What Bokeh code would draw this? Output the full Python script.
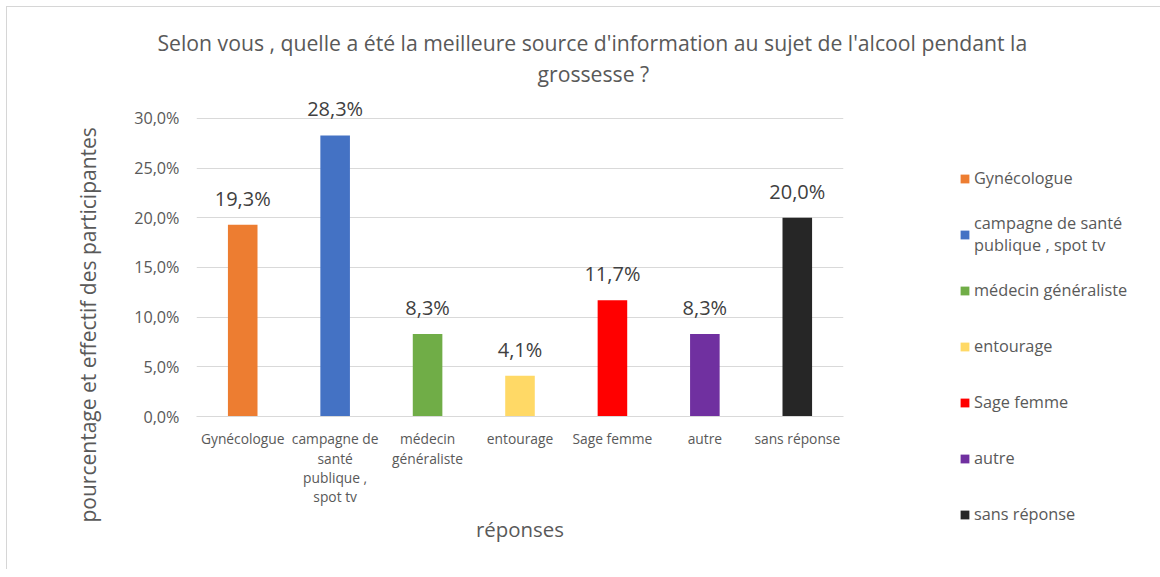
from bokeh.plotting import figure
from bokeh.models import (ColumnDataSource, Range1d, FixedTicker, LinearAxis,
                          LabelSet, Legend, LegendItem, Title)
from bokeh.core.properties import value
from bokeh.embed import file_html
from bokeh.resources import INLINE

# ---- data ----
categories = ["Gynécologue", "campagne de santé publique , spot tv", "médecin généraliste",
              "entourage", "Sage femme", "autre", "sans réponse"]
values = [19.3, 28.3, 8.3, 4.1, 11.7, 8.3, 20.0]
value_labels = ["19,3%", "28,3%", "8,3%", "4,1%", "11,7%", "8,3%", "20,0%"]
# wrapped category labels, one list per text line
axis_lines = [
    ["Gynécologue", "campagne de", "médecin", "entourage", "Sage femme", "autre", "sans réponse"],
    ["", "santé", "généraliste", "", "", "", ""],
    ["", "publique ,", "", "", "", "", ""],
    ["", "spot tv", "", "", "", "", ""],
]
legend_labels = ["Gynécologue", "campagne de santé\npublique , spot tv", "médecin généraliste",
                 "entourage", "Sage femme", "autre", "sans réponse"]
colors = ["#ED7D31", "#4472C4", "#70AD47", "#FFD966", "#FF0000", "#7030A0", "#262626"]
y_ticks = [0, 5, 10, 15, 20, 25, 30]
y_tick_labels = ["0,0%", "5,0%", "10,0%", "15,0%", "20,0%", "25,0%", "30,0%"]
title_lines = ["Selon vous , quelle a été la meilleure source d'information au sujet de l'alcool pendant la",
               "grossesse ?"]
x_title = "réponses"
y_title = "pourcentage et effectif des participantes"

FONT = "Open Sans"
GREY = "#595959"
EDGE = "#D6D6D6"

x_pos = list(range(len(categories)))

p = figure(frame_width=647, frame_height=329, title=None,
           x_range=Range1d(-0.5, len(categories) - 0.5),
           y_range=Range1d(0, 33.12),
           output_backend="svg", toolbar_location=None,
           min_border_left=196, min_border_right=309,
           min_border_top=87, min_border_bottom=153)
p.outline_line_color = None
p.background_fill_color = "white"
p.border_fill_alpha = 0
p.styles = {
    "background": (f"linear-gradient({EDGE}, {EDGE}) 6px 6px / 1px 100% no-repeat, "
                   f"linear-gradient({EDGE}, {EDGE}) 6px 6px / 100% 1px no-repeat, white"),
}

source = ColumnDataSource(dict(x=x_pos, cat=categories, val=values, color=colors, lbl=value_labels))
r = p.vbar(x="x", top="val", width=0.32, fill_color="color", line_color=None, source=source)

labels = LabelSet(x="x", y="val", text="lbl", source=source, y_offset=19,
                  text_align="center", text_baseline="alphabetic",
                  text_font=value(FONT), text_font_size=value("20px"), text_color="#404040")
p.add_layout(labels)

# x axes: one per wrapped text line
xa = p.xaxis[0]
extra_axes = [LinearAxis() for _ in range(len(axis_lines) - 1)]
for ax in extra_axes:
    p.add_layout(ax, "below")
all_x_axes = [xa] + extra_axes
standoffs = [12, -2, -3, -3]
for k, ax in enumerate(all_x_axes):
    ax.ticker = FixedTicker(ticks=x_pos)
    ax.major_label_overrides = dict(zip(x_pos, axis_lines[k]))
    ax.major_label_text_font = FONT
    ax.major_label_text_font_size = "13.8px"
    ax.major_label_text_color = GREY
    ax.major_label_standoff = standoffs[k]
    ax.major_tick_line_color = None
    ax.major_tick_out = 0
    ax.major_tick_in = 0
    ax.minor_tick_line_color = None
    ax.minor_tick_out = 0
    ax.axis_line_color = "#D9D9D9" if k == 0 else None
last = all_x_axes[-1]
last.axis_label = x_title
last.axis_label_text_font = FONT
last.axis_label_text_font_size = "20.4px"
last.axis_label_text_font_style = "normal"
last.axis_label_text_color = GREY
last.axis_label_standoff = 6

p.yaxis.ticker = FixedTicker(ticks=y_ticks)
p.yaxis.major_label_overrides = dict(zip(y_ticks, y_tick_labels))
p.yaxis.major_label_text_font = FONT
p.yaxis.major_label_text_font_size = "16.2px"
p.yaxis.major_label_text_color = GREY
p.yaxis.major_label_standoff = 17
p.yaxis.major_tick_line_color = None
p.yaxis.major_tick_out = 0
p.yaxis.major_tick_in = 0
p.yaxis.minor_tick_line_color = None
p.yaxis.minor_tick_out = 0
p.yaxis.axis_line_color = None

p.xgrid.visible = False
p.ygrid.grid_line_color = "#D9D9D9"
p.ygrid.grid_line_width = 1

# chart title (two lines; first added is nearest the plot)
p.add_layout(Title(text=title_lines[1], align="left", offset=341, standoff=0,
                   vertical_align="bottom", text_font=FONT, text_font_size="21.2px",
                   text_font_style="normal", text_color=GREY), "above")
p.add_layout(Title(text=title_lines[0], align="left", offset=-39, standoff=0,
                   vertical_align="bottom", text_font=FONT, text_font_size="21.2px",
                   text_font_style="normal", text_color=GREY), "above")

# y axis title
p.add_layout(Title(text=y_title, align="left", offset=-106, standoff=57,
                   vertical_align="middle", text_font=FONT, text_font_size="21px",
                   text_font_style="normal", text_color=GREY), "left")

# legend
items = [LegendItem(label=legend_labels[i], renderers=[r], index=i) for i in range(len(categories))]
legend = Legend(items=items, location=(116, -126), orientation="vertical",
                padding=0, margin=0, spacing=0, label_height=56,
                glyph_height=11, glyph_width=11, label_standoff=4,
                label_text_font=FONT, label_text_font_size="16.3px", label_text_color=GREY,
                border_line_color=None, background_fill_alpha=0)
p.add_layout(legend, "right")

open("out.html", "w").write(file_html(p, INLINE))
